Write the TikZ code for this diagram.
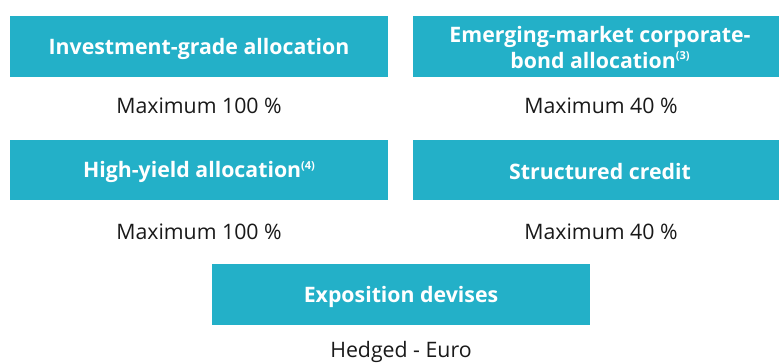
\documentclass[tikz,border=0pt]{standalone}
\usepackage{fontspec}
\setmainfont{Open Sans}
\definecolor{teal}{HTML}{23B0C8}
\newcommand{\supnote}[1]{\raisebox{0.75ex}{\fontsize{11}{12}\selectfont\bfseries #1}}
\begin{document}
\begin{tikzpicture}[x=1pt,y=-1pt,
  box/.style={fill=teal,draw=none,text=white,font=\fontsize{21.3}{25.5}\selectfont\bfseries,align=center,anchor=center},
  lab/.style={font=\fontsize{21.3}{25}\selectfont,text=black!90,anchor=center}]
\useasboundingbox (0,0) rectangle (779,363);
\fill[teal] (10,16) rectangle (388,77);
\node[box] (ig) at (199,48.5) {Investment-grade allocation};
\fill[teal] (413,16) rectangle (779,77);
\node[box] (em) at (600,47.5) {Emerging-market corporate-\\bond allocation\supnote{(3)}};
\fill[teal] (10,140) rectangle (388,200);
\node[box] (hy) at (199,172) {High-yield allocation\supnote{(4)}};
\fill[teal] (413,140) rectangle (779,200);
\node[box] (sc) at (600,172) {Structured credit};
\fill[teal] (212,264) rectangle (590,325);
\node[box] (ex) at (401,296.5) {Exposition devises};
\node[lab] (l1) at (199,106) {Maximum 100 \%};
\node[lab] (l2) at (601,106) {Maximum 40 \%};
\node[lab] (l3) at (199,232) {Maximum 100 \%};
\node[lab] (l4) at (601,232) {Maximum 40 \%};
\node[lab] (l5) at (401,352) {Hedged - Euro};
\end{tikzpicture}
\end{document}
